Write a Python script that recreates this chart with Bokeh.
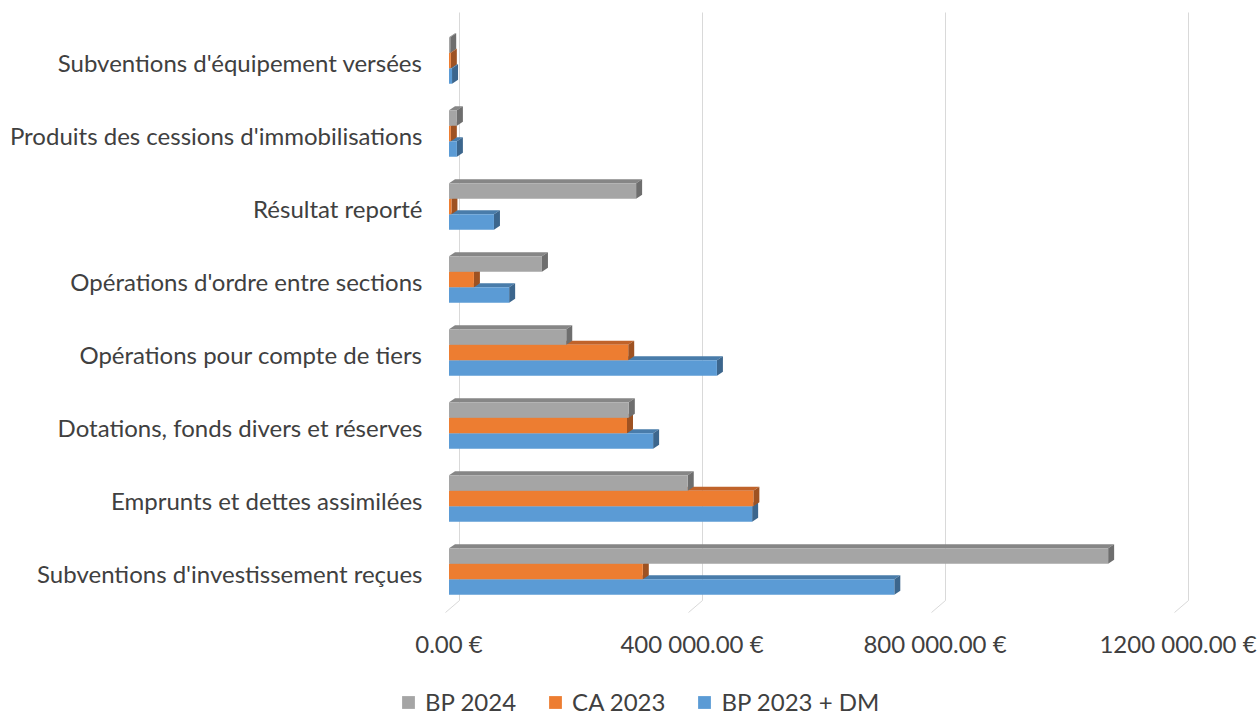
from bokeh.plotting import figure
from bokeh.models import Range1d, FixedTicker, Legend, LegendItem, ColumnDataSource
from bokeh.embed import file_html
from bokeh.resources import INLINE

# ---------------- data ----------------
categories = [
    "Subventions d'investissement reçues",
    "Emprunts et dettes assimilées",
    "Dotations, fonds divers et réserves",
    "Opérations pour compte de tiers",
    "Opérations d'ordre entre sections",
    "Résultat reporté",
    "Produits des cessions d'immobilisations",
    "Subventions d'équipement versées",
]
bp_2024 = [1085000, 393000, 296000, 193000, 153000, 308000, 13000, 2000]
ca_2023 = [319000, 501000, 293000, 295000, 41000, 4000, 3000, 3000]
bp_2023_dm = [733000, 499000, 336000, 441000, 99000, 74000, 13000, 5000]
series_names = ["BP 2024", "CA 2023", "BP 2023 + DM"]
x_ticks = [0, 400000, 800000, 1200000]
tick_labels = ["0.00 €", "400 000.00 €", "800 000.00 €", "1200 000.00 €"]

# ---------------- geometry / style ----------------
W, H = 1259, 715
AXIS_X_PX = 440      # where the category axis sits
AXIS_Y_PX = 620      # where the value axis sits (floor)
LABEL_RIGHT = 422
X0PX = 448.5
K = 243 / 400000.0          # px per unit
YPX = 73.0                   # px per category
Y0PX = 572.5
x_start = -X0PX / K
x_end = (W - X0PX) / K
y_start = -(H - Y0PX) / YPX
y_end = Y0PX / YPX

FONT = "Lato"
TXT = "#404040"
FS = "24px"

front = ["#A5A5A5", "#ED7D31", "#5B9BD5"]
topc = ["#868686", "#C0632A", "#497CAA"]
sidec = ["#6E6E6E", "#9E5222", "#3C668D"]
offsets = [0.233, 0.021, -0.191]
BH = 0.212
DX = 6 / K
DY = 4 / YPX

p = figure(width=W, height=H, x_range=Range1d(x_start, x_end),
           y_range=Range1d(y_start, y_end), output_backend="svg",
           toolbar_location=None, min_border=0, min_border_left=0,
           min_border_right=0, min_border_top=0, min_border_bottom=0)
p.outline_line_color = None
p.xgrid.visible = False
p.ygrid.visible = False
p.background_fill_color = "white"
p.border_fill_color = "white"

# gridlines (3D walls)
gx_back = [t + 10.5 / K for t in x_ticks]
gx_front = [t - 3.5 / K for t in x_ticks]
y_top = (Y0PX - 12) / YPX
y_floor_back = (Y0PX - 600) / YPX
y_floor_front = (Y0PX - 612) / YPX
p.segment(x0=gx_back, y0=[y_top] * 4, x1=gx_back, y1=[y_floor_back] * 4,
          line_color="#D9D9D9", line_width=1)
p.segment(x0=gx_back, y0=[y_floor_back] * 4, x1=gx_front, y1=[y_floor_front] * 4,
          line_color="#D9D9D9", line_width=1)

series_vals = [bp_2024, ca_2023, bp_2023_dm]
front_renderers = [None, None, None]
for s in [2, 1, 0]:
    vals = series_vals[s]
    ys = [i + offsets[s] for i in range(len(categories))]
    tops_x, tops_y, sides_x, sides_y = [], [], [], []
    for v, c in zip(vals, ys):
        t = c + BH / 2
        b = c - BH / 2
        tops_x.append([0, v, v + DX, DX])
        tops_y.append([t, t, t + DY, t + DY])
        sides_x.append([v, v, v + DX, v + DX])
        sides_y.append([b, t, t + DY, b + DY])
    p.patches(xs=tops_x, ys=tops_y, fill_color=topc[s], line_color=None)
    p.patches(xs=sides_x, ys=sides_y, fill_color=sidec[s], line_color=None)
    src = ColumnDataSource(dict(y=ys, right=vals))
    front_renderers[s] = p.hbar(y="y", left=0, right="right", height=BH, source=src,
                                fill_color=front[s], line_color=None)

# axes (placed at fixed data locations inside the canvas)
xa = p.xaxis[0]
xa.fixed_location = -(AXIS_Y_PX - Y0PX) / YPX
xa.ticker = FixedTicker(ticks=x_ticks)
xa.major_label_overrides = {t: l for t, l in zip(x_ticks, tick_labels)}
xa.axis_line_color = None
xa.major_tick_line_color = None
xa.minor_tick_line_color = None
xa.major_tick_out = 0
xa.major_tick_in = 0
xa.major_label_standoff = 8
xa.major_label_text_font = FONT
xa.major_label_text_font_size = FS
xa.major_label_text_color = TXT

ya = p.yaxis[0]
ya.fixed_location = -(X0PX - AXIS_X_PX) / K
ya.ticker = FixedTicker(ticks=list(range(len(categories))))
ya.major_label_overrides = {i: c for i, c in enumerate(categories)}
ya.axis_line_color = None
ya.major_tick_line_color = None
ya.minor_tick_line_color = None
ya.major_tick_out = 0
ya.major_tick_in = 0
ya.major_label_standoff = AXIS_X_PX - LABEL_RIGHT
ya.major_label_text_font = FONT
ya.major_label_text_font_size = FS
ya.major_label_text_color = TXT

legend = Legend(items=[LegendItem(label=n, renderers=[r]) for n, r in zip(series_names, front_renderers)],
                location=(400, -1), orientation="horizontal", padding=0, margin=0,
                spacing=31, glyph_width=16, glyph_height=16, label_standoff=9,
                border_line_color=None, background_fill_alpha=0,
                label_text_font=FONT, label_text_font_size=FS, label_text_color=TXT)
p.add_layout(legend)

open("out.html", "w").write(file_html(p, INLINE))
